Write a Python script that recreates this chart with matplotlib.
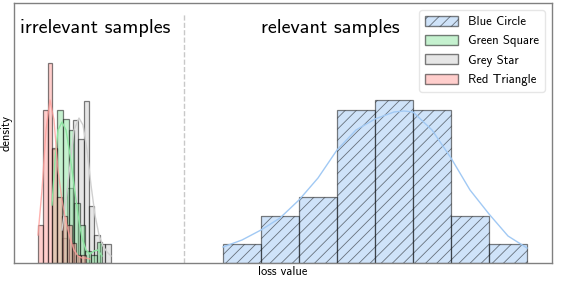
import matplotlib.pyplot as plt
from matplotlib.patches import Patch

# histogram bins (left edge, loss units) and densities
blue_left = [2.09, 2.47, 2.85, 3.23, 3.61, 3.99, 4.37, 4.75]
blue_width = 0.38
blue_density = [0.19, 0.47, 0.66, 1.53, 1.63, 1.53, 0.47, 0.19]

grey_left = [0.48, 0.534, 0.588, 0.642, 0.696, 0.75, 0.804, 0.858, 0.912]
grey_width = 0.054
grey_density = [0.25, 0.75, 1.43, 1.24, 1.62, 0.57, 0.28, 0.19, 0.19]

green_left = [0.377, 0.433, 0.489, 0.545, 0.601, 0.657, 0.713, 0.769, 0.825]
green_width = 0.056
green_density = [1.14, 1.53, 1.44, 1.33, 0.60, 0.38, 0.12, 0.08, 0.21]

red_left = [0.24, 0.288, 0.336, 0.384, 0.432, 0.48, 0.528, 0.576, 0.624, 0.672]
red_width = 0.048
red_density = [0.38, 1.53, 2.00, 1.15, 0.66, 0.47, 0.38, 0.20, 0.08, 0.08]

# kde curves
blue_kde_x = [2.09, 2.28, 2.47, 2.66, 2.85, 3.04, 3.23, 3.42, 3.61, 3.80, 3.90, 3.99,
              4.18, 4.37, 4.56, 4.75, 4.94, 5.13]
blue_kde_y = [0.16, 0.23, 0.33, 0.45, 0.63, 0.85, 1.13, 1.33, 1.44, 1.51, 1.52, 1.51,
              1.33, 1.05, 0.73, 0.49, 0.27, 0.15]
red_kde_x = [0.24, 0.28, 0.32, 0.36, 0.40, 0.44, 0.48, 0.52, 0.56, 0.60, 0.64, 0.68, 0.72, 0.76]
red_kde_y = [0.28, 0.73, 1.33, 1.63, 1.43, 0.93, 0.63, 0.41, 0.25, 0.13, 0.07, 0.05, 0.05, 0.04]
green_kde_x = [0.38, 0.41, 0.44, 0.48, 0.52, 0.56, 0.60, 0.64, 0.68, 0.72, 0.76, 0.80, 0.84, 0.88]
green_kde_y = [0.58, 1.03, 1.33, 1.41, 1.33, 1.08, 0.78, 0.48, 0.25, 0.13, 0.09, 0.12, 0.13, 0.07]
grey_kde_x = [0.48, 0.52, 0.56, 0.60, 0.65, 0.69, 0.73, 0.77, 0.81, 0.85, 0.89, 0.93, 0.97]
grey_kde_y = [0.33, 0.63, 0.98, 1.33, 1.45, 1.38, 1.13, 0.78, 0.48, 0.28, 0.17, 0.11, 0.07]

labels = ['Blue Circle', 'Green Square', 'Grey Star', 'Red Triangle']
colors = ['#a1c9f4', '#8de5a1', '#cfcfcf', '#ff9f9b']

plt.rcParams['font.family'] = ['cmss10', 'DejaVu Sans']
plt.rcParams['hatch.color'] = '#8a8a8a'
plt.rcParams['hatch.linewidth'] = 0.6

fig = plt.figure(figsize=(5.7, 3.06), dpi=100)
ax = fig.add_axes([14 / 570, 1 - 263 / 306, 538 / 570, 260 / 306])

edge = (0, 0, 0, 0.8)
ax.bar(grey_left, grey_density, width=grey_width, align='edge', color=colors[2],
       alpha=0.5, edgecolor=edge, linewidth=0.9)
ax.bar(green_left, green_density, width=green_width, align='edge', color=colors[1],
       alpha=0.5, edgecolor=edge, linewidth=0.9)
ax.bar(red_left, red_density, width=red_width, align='edge', color=colors[3],
       alpha=0.5, edgecolor=edge, linewidth=0.9)
ax.bar(blue_left, blue_density, width=blue_width, align='edge', color=colors[0],
       alpha=0.5, edgecolor=edge, linewidth=0.9, hatch='///')

ax.plot(grey_kde_x, grey_kde_y, color=colors[2], lw=1)
ax.plot(green_kde_x, green_kde_y, color=colors[1], lw=1)
ax.plot(red_kde_x, red_kde_y, color=colors[3], lw=1, alpha=0.8)
ax.plot(blue_kde_x, blue_kde_y, color=colors[0], lw=1)

ax.plot([1.70, 1.70], [0, 2.5], color='#c8c8c8', lw=1, ls='--')

ax.text(0.81, 2.35, 'irrelevant samples', ha='center', va='center', fontsize=14.5)
ax.text(3.16, 2.35, 'relevant samples', ha='center', va='center', fontsize=14.5)

ax.set_xlim(0, 5.38)
ax.set_ylim(0, 2.6)
ax.set_xticks([])
ax.set_yticks([])
ax.set_xlabel('loss value', fontsize=9, labelpad=2.5)
ax.set_ylabel('density', fontsize=9, labelpad=1)
for s in ax.spines.values():
    s.set_color('#808080')
    s.set_linewidth(1)

handles = [Patch(facecolor=c, alpha=0.5, edgecolor=(0, 0, 0, 0.6), hatch='///' if i == 0 else None)
           for i, c in enumerate(colors)]
leg = ax.legend(handles, labels, loc='upper right', fontsize=9.2, frameon=True,
                handlelength=2.6, handleheight=0.8, borderaxespad=0.55,
                labelspacing=0.55, borderpad=0.45)
leg.get_frame().set_edgecolor('#e0e0e0')

fig.savefig('out.png', dpi=100)
